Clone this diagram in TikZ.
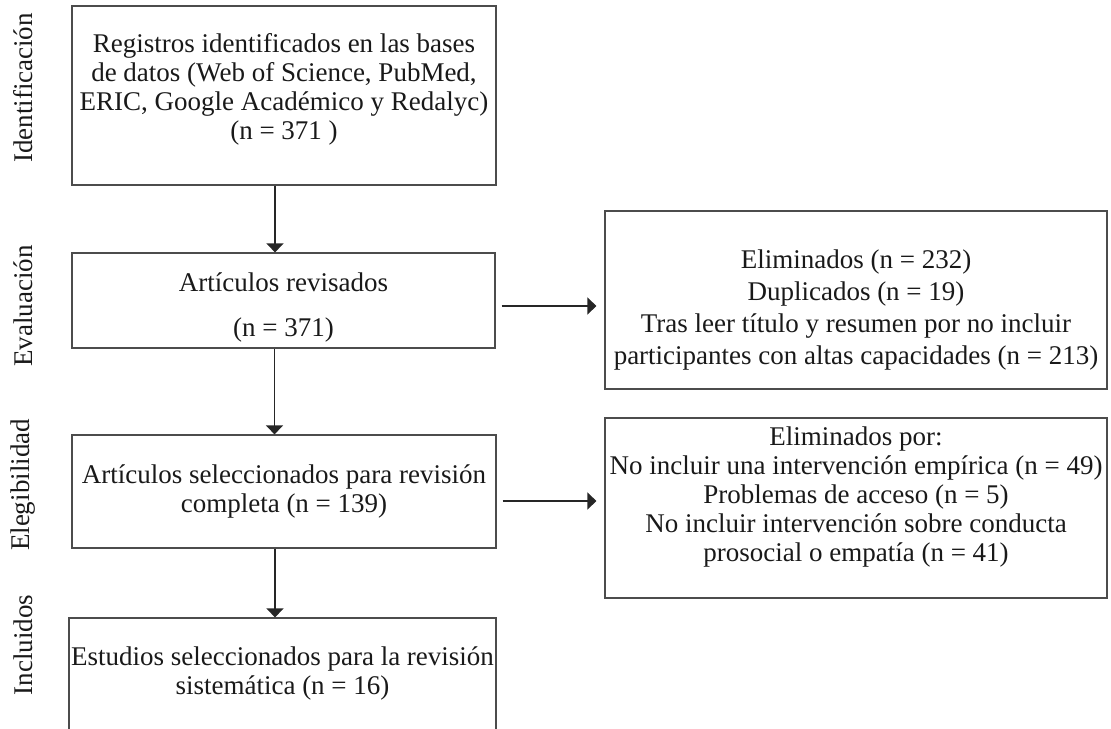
\documentclass[tikz,border=0pt]{standalone}
\usepackage{fontspec}
\setmainfont{Liberation Serif}
\usepackage{tikz}
\usetikzlibrary{arrows.meta}

\begin{document}
\begin{tikzpicture}[x=0.5pt,y=-0.5pt,
  font=\fontsize{13.5}{14.5}\selectfont,
  stagebox/.style={draw=black!70, line width=0.6pt, align=center, text=black!90, inner sep=0pt},
  sidelabel/.style={rotate=90, text=black!90},
  arr/.style={draw=black!85, line width=0.6pt, -{Triangle[length=4.5pt,width=8.5pt]}}]
\useasboundingbox (0,0) rectangle (1111,728);

% phase labels
\path (23,88) node[sidelabel] (lblident) {Identificación};
\path (23,306) node[sidelabel] (lbleval) {Evaluación};
\path (23,485) node[sidelabel] (lblelig) {Elegibilidad};
\path (23,645) node[sidelabel] (lblincl) {Incluidos};

% main column
\path (284,95.5) node[stagebox, minimum width=212pt, minimum height=89.5pt] (ident)
  {Registros identificados en las bases\\de datos (Web of Science, PubMed,\\ERIC, Google Académico y Redalyc)\\(n = 371 )\rule[-9.5pt]{0pt}{0pt}};
\path (283.5,300.5) node[stagebox, minimum width=211.5pt, minimum height=47.5pt] (eval)
  {\rule{0pt}{16pt}Artículos revisados\\[8pt](n = 371)};
\path (284,491.5) node[stagebox, minimum width=212pt, minimum height=56.5pt] (elig)
  {Artículos seleccionados para revisión\\completa (n = 139)};
\path (282.5,679) node[stagebox, minimum width=213.5pt, minimum height=61pt] (incl)
  {Estudios seleccionados para la revisión\\sistemática (n = 16)\rule[-8.5pt]{0pt}{0pt}};

% excluded
\path (856,300) node[stagebox, minimum width=251pt, minimum height=89pt,
    font=\fontsize{13.5}{16}\selectfont] (excl1)
  {\rule{0pt}{19.5pt}Eliminados (n = 232)\\Duplicados (n = 19)\\Tras leer título y resumen por no incluir\\participantes con altas capacidades (n = 213)};
\path (856,508) node[stagebox, minimum width=251pt, minimum height=90pt] (excl2)
  {Eliminados por:\\No incluir una intervención empírica (n = 49)\\Problemas de acceso (n = 5)\\No incluir intervención sobre conducta\\prosocial o empatía (n = 41)\rule[-14pt]{0pt}{0pt}};

% arrows
\draw[arr] ([xshift=-4.5pt]ident.south) coordinate (v1) -- (v1 |- eval.north);
\draw[arr] ([xshift=-4.5pt]eval.south) coordinate (v2) -- (v2 |- elig.north);
\draw[arr] ([xshift=-4.5pt]elig.south) coordinate (v3) -- (v3 |- incl.north);
\draw[arr, shorten >=4pt] ([shift={(6,5.5)}]eval.east) coordinate (h1) -- (h1 -| excl1.west);
\draw[arr, shorten >=4pt] ([shift={(6,9.5)}]elig.east) coordinate (h2) -- (h2 -| excl2.west);
\end{tikzpicture}
\end{document}
